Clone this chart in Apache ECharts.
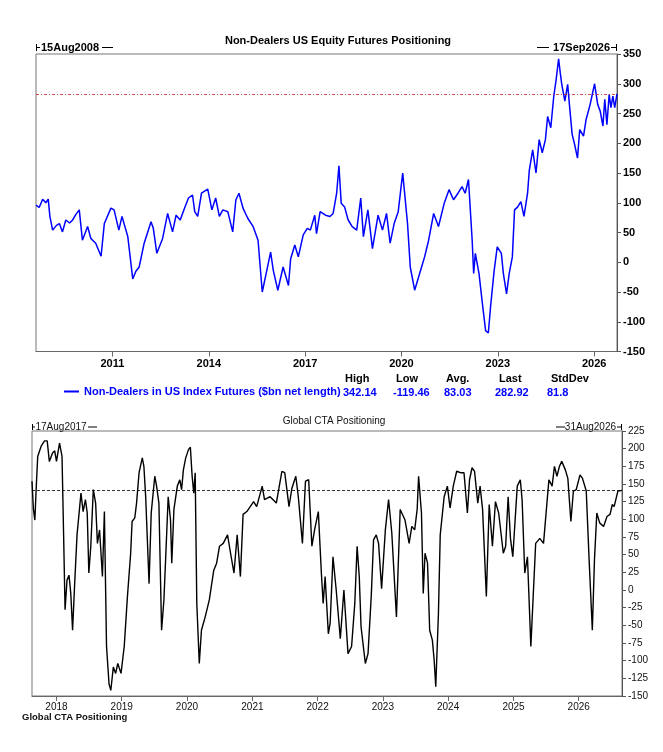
<!DOCTYPE html>
<html>
<head>
<meta charset="utf-8">
<script src="https://cdn.jsdelivr.net/npm/echarts@6/dist/echarts.min.js"></script>
<style>
  html, body { margin: 0; padding: 0; background: #fff; }
  #main { width: 663px; height: 752px; }
</style>
</head>
<body>
<div id="main"></div>
<script>
// Non-Dealers in US Index Futures ($bn net length)
var topDates = [
  '2008-08-15','2008-09-20','2008-10-30','2008-12-05','2009-01-01','2009-01-20','2009-02-20','2009-04-05',
  '2009-05-08','2009-06-12','2009-07-20','2009-09-01','2009-10-05','2009-11-10','2009-12-20','2010-01-25',
  '2010-03-25','2010-05-01','2010-06-25','2010-08-25','2010-10-01','2010-12-15','2011-01-20','2011-03-15',
  '2011-04-20','2011-06-25','2011-08-20','2011-09-25','2011-11-01','2011-12-28','2012-03-15','2012-04-10',
  '2012-05-20','2012-07-25','2012-09-20','2012-11-15','2012-12-25','2013-02-10','2013-04-01','2013-05-15',
  '2013-06-30','2013-07-25','2013-08-28','2013-10-10','2013-12-20','2014-01-10','2014-02-05','2014-03-20',
  '2014-05-01','2014-06-10','2014-08-05','2014-09-30','2014-11-05','2014-12-10','2015-01-25','2015-03-20',
  '2015-05-20','2015-07-15','2015-09-01','2015-10-15','2015-12-05','2016-01-05','2016-02-25','2016-04-25',
  '2016-06-25','2016-07-20','2016-09-05','2016-10-15','2016-12-10','2017-01-25','2017-03-01','2017-04-20',
  '2017-05-10','2017-06-20','2017-08-20','2017-10-10','2017-11-15','2017-12-25','2018-01-20','2018-02-15',
  '2018-03-25','2018-05-05','2018-06-20','2018-08-10','2018-09-25','2018-10-25','2018-12-15','2019-02-05',
  '2019-04-10','2019-05-30','2019-07-15','2019-08-25','2019-10-10','2019-11-25','2020-01-15','2020-02-05',
  '2020-03-10','2020-04-10','2020-05-30','2020-08-05','2020-09-20','2020-11-05','2021-01-01','2021-02-25',
  '2021-05-01','2021-06-25','2021-08-15','2021-10-05','2021-11-20','2021-12-25','2022-02-01','2022-03-15',
  '2022-04-01','2022-04-20','2022-06-01','2022-07-05','2022-08-15','2022-09-15','2022-10-10','2022-11-20',
  '2022-12-25','2023-02-10','2023-03-05','2023-04-10','2023-05-10','2023-06-15','2023-07-10','2023-08-15',
  '2023-09-20','2023-10-25','2023-12-05','2023-12-25','2024-02-01','2024-03-10','2024-04-15','2024-05-20',
  '2024-06-25','2024-07-20','2024-08-25','2024-09-28','2024-10-25','2024-11-22','2024-12-10','2024-12-28',
  '2025-02-01','2025-03-05','2025-03-25','2025-04-25','2025-05-20','2025-06-25','2025-07-20','2025-09-01',
  '2025-10-01','2025-11-15','2026-01-05','2026-02-10','2026-03-10','2026-04-10','2026-05-01','2026-05-25',
  '2026-06-20','2026-07-10','2026-08-01','2026-08-22','2026-09-17'
];
var topValues = [
  96, 92, 106, 100, 106, 77, 54, 62,
  65, 51, 71, 66, 71, 80, 88, 37,
  60, 40, 32, 10, 65, 91, 88, 54,
  77, 43, -28, -15, -8, 32, 68, 57,
  15, 40, 82, 51, 79, 71, 91, 108,
  113, 85, 77, 116, 123, 125, 88, 108,
  77, 88, 85, 51, 105, 116, 91, 74,
  60, 37, -50, -19, 17, -14, -47, -8,
  -39, 6, 29, 9, 46, 57, 54, 79,
  48, 85, 79, 77, 82, 116, 162, 99,
  93, 71, 60, 54, 108, 43, 88, 23,
  79, 54, 82, 32, 65, 85, 150, 153,
  65, -8, -47, -14, 9, 37, 82, 60,
  99, 122, 105, 116, 127, 116, 139, 37,
  -19, 15, -19, -64, -115, -119, -75, -14,
  26, 15, -19, -53, -19, 9, 88, 93,
  102, 77, 116, 155, 189, 150, 206, 184,
  206, 245, 226, 279, 307, 342, 319, 299,
  271, 299, 265, 215, 200, 175, 223, 212,
  240, 265, 300, 265, 254, 229, 274, 231,
  282, 260, 279, 260, 282.92
];

// Global CTA Positioning
var ctaDates = [
  '2017-08-17','2017-08-25','2017-09-02','2017-09-10','2017-09-18','2017-10-08','2017-10-26','2017-11-10',
  '2017-11-22','2017-12-10','2017-12-22','2018-01-01','2018-01-18','2018-02-01','2018-02-10','2018-02-18',
  '2018-03-01','2018-03-12','2018-03-22','2018-04-01','2018-04-12','2018-04-26','2018-05-18','2018-05-30',
  '2018-06-12','2018-06-22','2018-07-01','2018-07-12','2018-07-26','2018-08-08','2018-08-18','2018-08-30',
  '2018-09-15','2018-09-26','2018-10-08','2018-10-22','2018-11-01','2018-11-15','2018-11-28','2018-12-10',
  '2018-12-28','2019-01-15','2019-02-02','2019-02-20','2019-02-28','2019-03-15','2019-03-25','2019-04-08',
  '2019-04-26','2019-05-05','2019-05-15','2019-06-03','2019-06-15','2019-07-05','2019-07-15','2019-07-28',
  '2019-08-12','2019-08-25','2019-09-05','2019-09-18','2019-10-01','2019-10-08','2019-10-20','2019-11-08',
  '2019-11-22','2019-12-02','2019-12-12','2019-12-25','2020-01-10','2020-01-20','2020-01-30','2020-02-08',
  '2020-02-16','2020-02-25','2020-03-10','2020-03-22','2020-04-12','2020-05-05','2020-05-30','2020-06-15',
  '2020-07-01','2020-07-22','2020-08-15','2020-09-01','2020-09-20','2020-10-08','2020-10-26','2020-11-10',
  '2020-12-01','2021-01-08','2021-01-25','2021-02-25','2021-03-10','2021-04-10','2021-05-15','2021-06-15',
  '2021-07-01','2021-07-25','2021-08-10','2021-09-01','2021-09-15','2021-10-08','2021-10-25','2021-11-12',
  '2021-11-30','2021-12-15','2022-01-05','2022-01-22','2022-02-01','2022-02-12','2022-03-02','2022-03-12',
  '2022-03-28','2022-04-15','2022-05-08','2022-05-28','2022-06-20','2022-07-10','2022-07-28','2022-08-10',
  '2022-08-22','2022-09-01','2022-09-12','2022-09-25','2022-10-10','2022-10-28','2022-11-10','2022-11-25',
  '2022-12-08','2022-12-25','2023-01-15','2023-02-02','2023-02-20','2023-03-18','2023-04-08','2023-05-05',
  '2023-05-28','2023-06-12','2023-06-28','2023-07-12','2023-07-20','2023-08-05','2023-08-15','2023-08-25',
  '2023-09-08','2023-09-20','2023-10-05','2023-10-15','2023-10-24','2023-11-08','2023-11-18','2023-12-10',
  '2023-12-28','2024-01-12','2024-01-30','2024-02-18','2024-03-10','2024-03-30','2024-04-18','2024-04-30',
  '2024-05-14','2024-05-28','2024-06-15','2024-06-28','2024-07-12','2024-08-02','2024-08-18','2024-09-05',
  '2024-09-22','2024-10-10','2024-11-05','2024-11-18','2024-12-02','2024-12-15','2024-12-28','2025-01-22',
  '2025-02-08','2025-02-18','2025-03-05','2025-03-20','2025-04-08','2025-05-05','2025-05-28','2025-06-18',
  '2025-07-18','2025-08-05','2025-08-18','2025-09-01','2025-09-15','2025-09-28','2025-10-18','2025-11-01',
  '2025-11-18','2025-12-02','2025-12-18','2026-01-08','2026-01-22','2026-02-12','2026-02-28','2026-03-18',
  '2026-03-30','2026-04-12','2026-04-28','2026-05-20','2026-06-08','2026-06-25','2026-07-08','2026-07-18',
  '2026-08-08','2026-08-31'
];
var ctaValues = [
  154, 114, 99, 147, 189, 204, 211, 211,
  182, 194, 197, 182, 208, 189, 76, -28,
  14, 21, -5, -57, 5, 78, 137, 111,
  128, 109, 24, 62, 142, 123, 66, 85,
  19, 111, -80, -133, -142, -109, -118, -104,
  -118, -80, -9, 52, 97, 102, 123, 166,
  187, 175, 132, 9, 109, 161, 147, 123,
  -57, -14, 52, 132, 99, 38, 114, 147,
  156, 142, 170, 187, 199, 202, 161, 137,
  166, -19, -104, -57, -38, -14, 28, 38,
  62, 66, 78, 52, 24, 78, 19, 107,
  111, 125, 118, 147, 128, 132, 123, 168,
  166, 118, 144, 161, 132, 66, 154, 156,
  62, 85, 111, 24, -19, 19, -62, -47,
  47, 0, -69, 0, -90, -80, -19, 62,
  19, -52, -52, -104, -90, -9, 71, 78,
  66, 2, 85, 128, 81, -38, 114, 99,
  66, 90, 85, 114, 161, 109, -5, 52,
  38, -57, -71, -99, -137, -33, 78, 132,
  147, 116, 147, 168, 166, 166, 109, 156,
  173, 168, 123, 147, 114, -9, 121, 62,
  125, 109, 52, 62, 132, 73, 47, 147,
  156, 128, 24, 47, -80, 66, 73, 66,
  156, 147, 175, 161, 175, 182, 170, 158,
  97, 140, 142, 163, 158, 140, 43, -57,
  43, 109, 95, 90, 104, 107, 121, 118,
  140, 141
];

var topYears = [2011, 2014, 2017, 2020, 2023, 2026];
var ctaYears = [2018, 2019, 2020, 2021, 2022, 2023, 2024, 2025, 2026];
var topRange = ['2008-08-15', '2026-09-17'];
var ctaRange = ['2017-08-17', '2026-08-31'];
var topRangeLabels = ['15Aug2008', '17Sep2026'];
var ctaRangeLabels = ['17Aug2017', '31Aug2026'];
var statNames = ['High', 'Low', 'Avg.', 'Last', 'StdDev'];
var statValues = ['342.14', '-119.46', '83.03', '282.92', '81.8'];

var topName = 'Non-Dealers in US Index Futures ($bn net length)';
var FONT = 'Liberation Sans, Arial, sans-serif';

function ts(s) {
  var p = s.split('-');
  return new Date(+p[0], +p[1] - 1, +p[2]).getTime();
}
function yearTs(y) { return new Date(y, 0, 1).getTime(); }
function pairs(d, v) {
  return d.map(function (s, i) { return [ts(s), v[i]]; });
}
function yearLabel(v) { return String(new Date(v + 43200000).getFullYear()); }

var myChart = echarts.init(document.getElementById('main'));

// header bits above each plot: |-date--   --date-|
var graphics = [];
function hline(x1, x2, y) {
  graphics.push({ type: 'line', shape: { x1: x1, y1: y, x2: x2, y2: y }, style: { stroke: '#000', lineWidth: 1 }, silent: true });
}
function vline(x, y1, y2) {
  graphics.push({ type: 'line', shape: { x1: x, y1: y1, x2: x, y2: y2 }, style: { stroke: '#000', lineWidth: 1 }, silent: true });
}
function label(txt, x, y, align, font, color) {
  graphics.push({
    type: 'text', x: x, y: y, silent: true,
    style: { text: txt, font: font, fill: color || '#000', align: align, verticalAlign: 'middle' }
  });
}

// top chart
label('Non-Dealers US Equity Futures Positioning', 338, 41, 'center', 'bold 11px ' + FONT);
vline(36.5, 44, 51); hline(36.5, 40, 47.5);
label(topRangeLabels[0], 41, 47.5, 'left', 'bold 11px ' + FONT);
hline(102, 113, 47.5);
hline(537, 549, 47.5);
label(topRangeLabels[1], 610, 47.5, 'right', 'bold 11px ' + FONT);
hline(611, 616.5, 47.5); vline(616.5, 44, 51);

var statHeadX = [345, 396, 446, 499, 551];
var statValX = [343, 393, 444, 495, 547];
statNames.forEach(function (n, i) {
  label(n, statHeadX[i], 379, 'left', 'bold 11px ' + FONT, '#000');
  label(statValues[i], statValX[i], 393, 'left', 'bold 11px ' + FONT, '#0000FF');
});

// bottom chart
label('Global CTA Positioning', 334, 421, 'center', '10px ' + FONT, '#111');
vline(32.5, 424, 430); hline(32.5, 35, 427);
label(ctaRangeLabels[0], 35.5, 427, 'left', '10px ' + FONT, '#111');
hline(88, 97, 427);
hline(556, 565, 427);
label(ctaRangeLabels[1], 616, 427, 'right', '10px ' + FONT, '#111');
hline(617, 621.5, 427); vline(621.5, 424, 430);
label('Global CTA Positioning', 22, 717, 'left', 'bold 9.5px ' + FONT, '#111');

var option = {
  animation: false,
  backgroundColor: '#fff',
  textStyle: { fontFamily: FONT },
  legend: {
    data: [topName],
    left: 64,
    top: 386,
    padding: 0,
    icon: 'rect',
    itemWidth: 15,
    itemHeight: 2,
    textStyle: { color: '#0000FF', fontWeight: 'bold', fontSize: 11, fontFamily: FONT }
  },
  grid: [
    { left: 36, top: 54, right: 46, height: 297.5, show: true, borderColor: '#777', borderWidth: 1 },
    { left: 32, top: 431, right: 41, height: 265, show: true, borderColor: '#777', borderWidth: 1 }
  ],
  xAxis: [
    {
      gridIndex: 0, type: 'value',
      min: ts(topRange[0]), max: ts(topRange[1]),
      splitLine: { show: false },
      axisLine: { onZero: false, lineStyle: { color: '#666' } },
      axisTick: { customValues: topYears.map(yearTs), length: 5, lineStyle: { color: '#666' } },
      axisLabel: {
        customValues: topYears.map(yearTs), formatter: yearLabel,
        color: '#000', fontWeight: 'bold', fontSize: 11, margin: 7
      }
    },
    {
      gridIndex: 1, type: 'value',
      min: ts(ctaRange[0]), max: ts(ctaRange[1]),
      splitLine: { show: false },
      axisLine: { onZero: false, lineStyle: { color: '#666' } },
      axisTick: { customValues: ctaYears.map(yearTs), length: 5, lineStyle: { color: '#666' } },
      axisLabel: {
        customValues: ctaYears.map(yearTs), formatter: yearLabel,
        color: '#111', fontSize: 10, margin: 6
      }
    }
  ],
  yAxis: [
    {
      gridIndex: 0, type: 'value', position: 'right',
      min: -150, max: 350, interval: 50,
      splitLine: { show: false },
      axisLine: { show: true, onZero: false, lineStyle: { color: '#555' } },
      axisTick: { show: true, length: 4, lineStyle: { color: '#555' } },
      axisLabel: { color: '#000', fontWeight: 'bold', fontSize: 11, margin: 6 }
    },
    {
      gridIndex: 1, type: 'value', position: 'right',
      min: -150, max: 225, interval: 25,
      splitLine: { show: false },
      axisLine: { show: true, onZero: false, lineStyle: { color: '#555' } },
      axisTick: { show: true, length: 4, lineStyle: { color: '#555' } },
      axisLabel: { color: '#111', fontSize: 10, margin: 6 }
    }
  ],
  series: [
    {
      name: topName,
      type: 'line',
      xAxisIndex: 0, yAxisIndex: 0,
      data: pairs(topDates, topValues),
      showSymbol: false,
      color: '#0000FF',
      lineStyle: { color: '#0000FF', width: 1.5 },
      markLine: {
        silent: true, symbol: 'none', label: { show: false },
        lineStyle: { color: '#D02020', type: [3, 2, 1, 2], width: 0.8 },
        data: [{ yAxis: topValues[topValues.length - 1] }]
      }
    },
    {
      name: 'Global CTA Positioning',
      type: 'line',
      xAxisIndex: 1, yAxisIndex: 1,
      data: pairs(ctaDates, ctaValues),
      showSymbol: false,
      color: '#000',
      lineStyle: { color: '#000', width: 1.4 },
      markLine: {
        silent: true, symbol: 'none', label: { show: false },
        lineStyle: { color: '#000', type: [3, 2], width: 0.8 },
        data: [{ yAxis: ctaValues[ctaValues.length - 1] }]
      }
    }
  ],
  graphic: graphics
};

myChart.setOption(option);
</script>
</body>
</html>
